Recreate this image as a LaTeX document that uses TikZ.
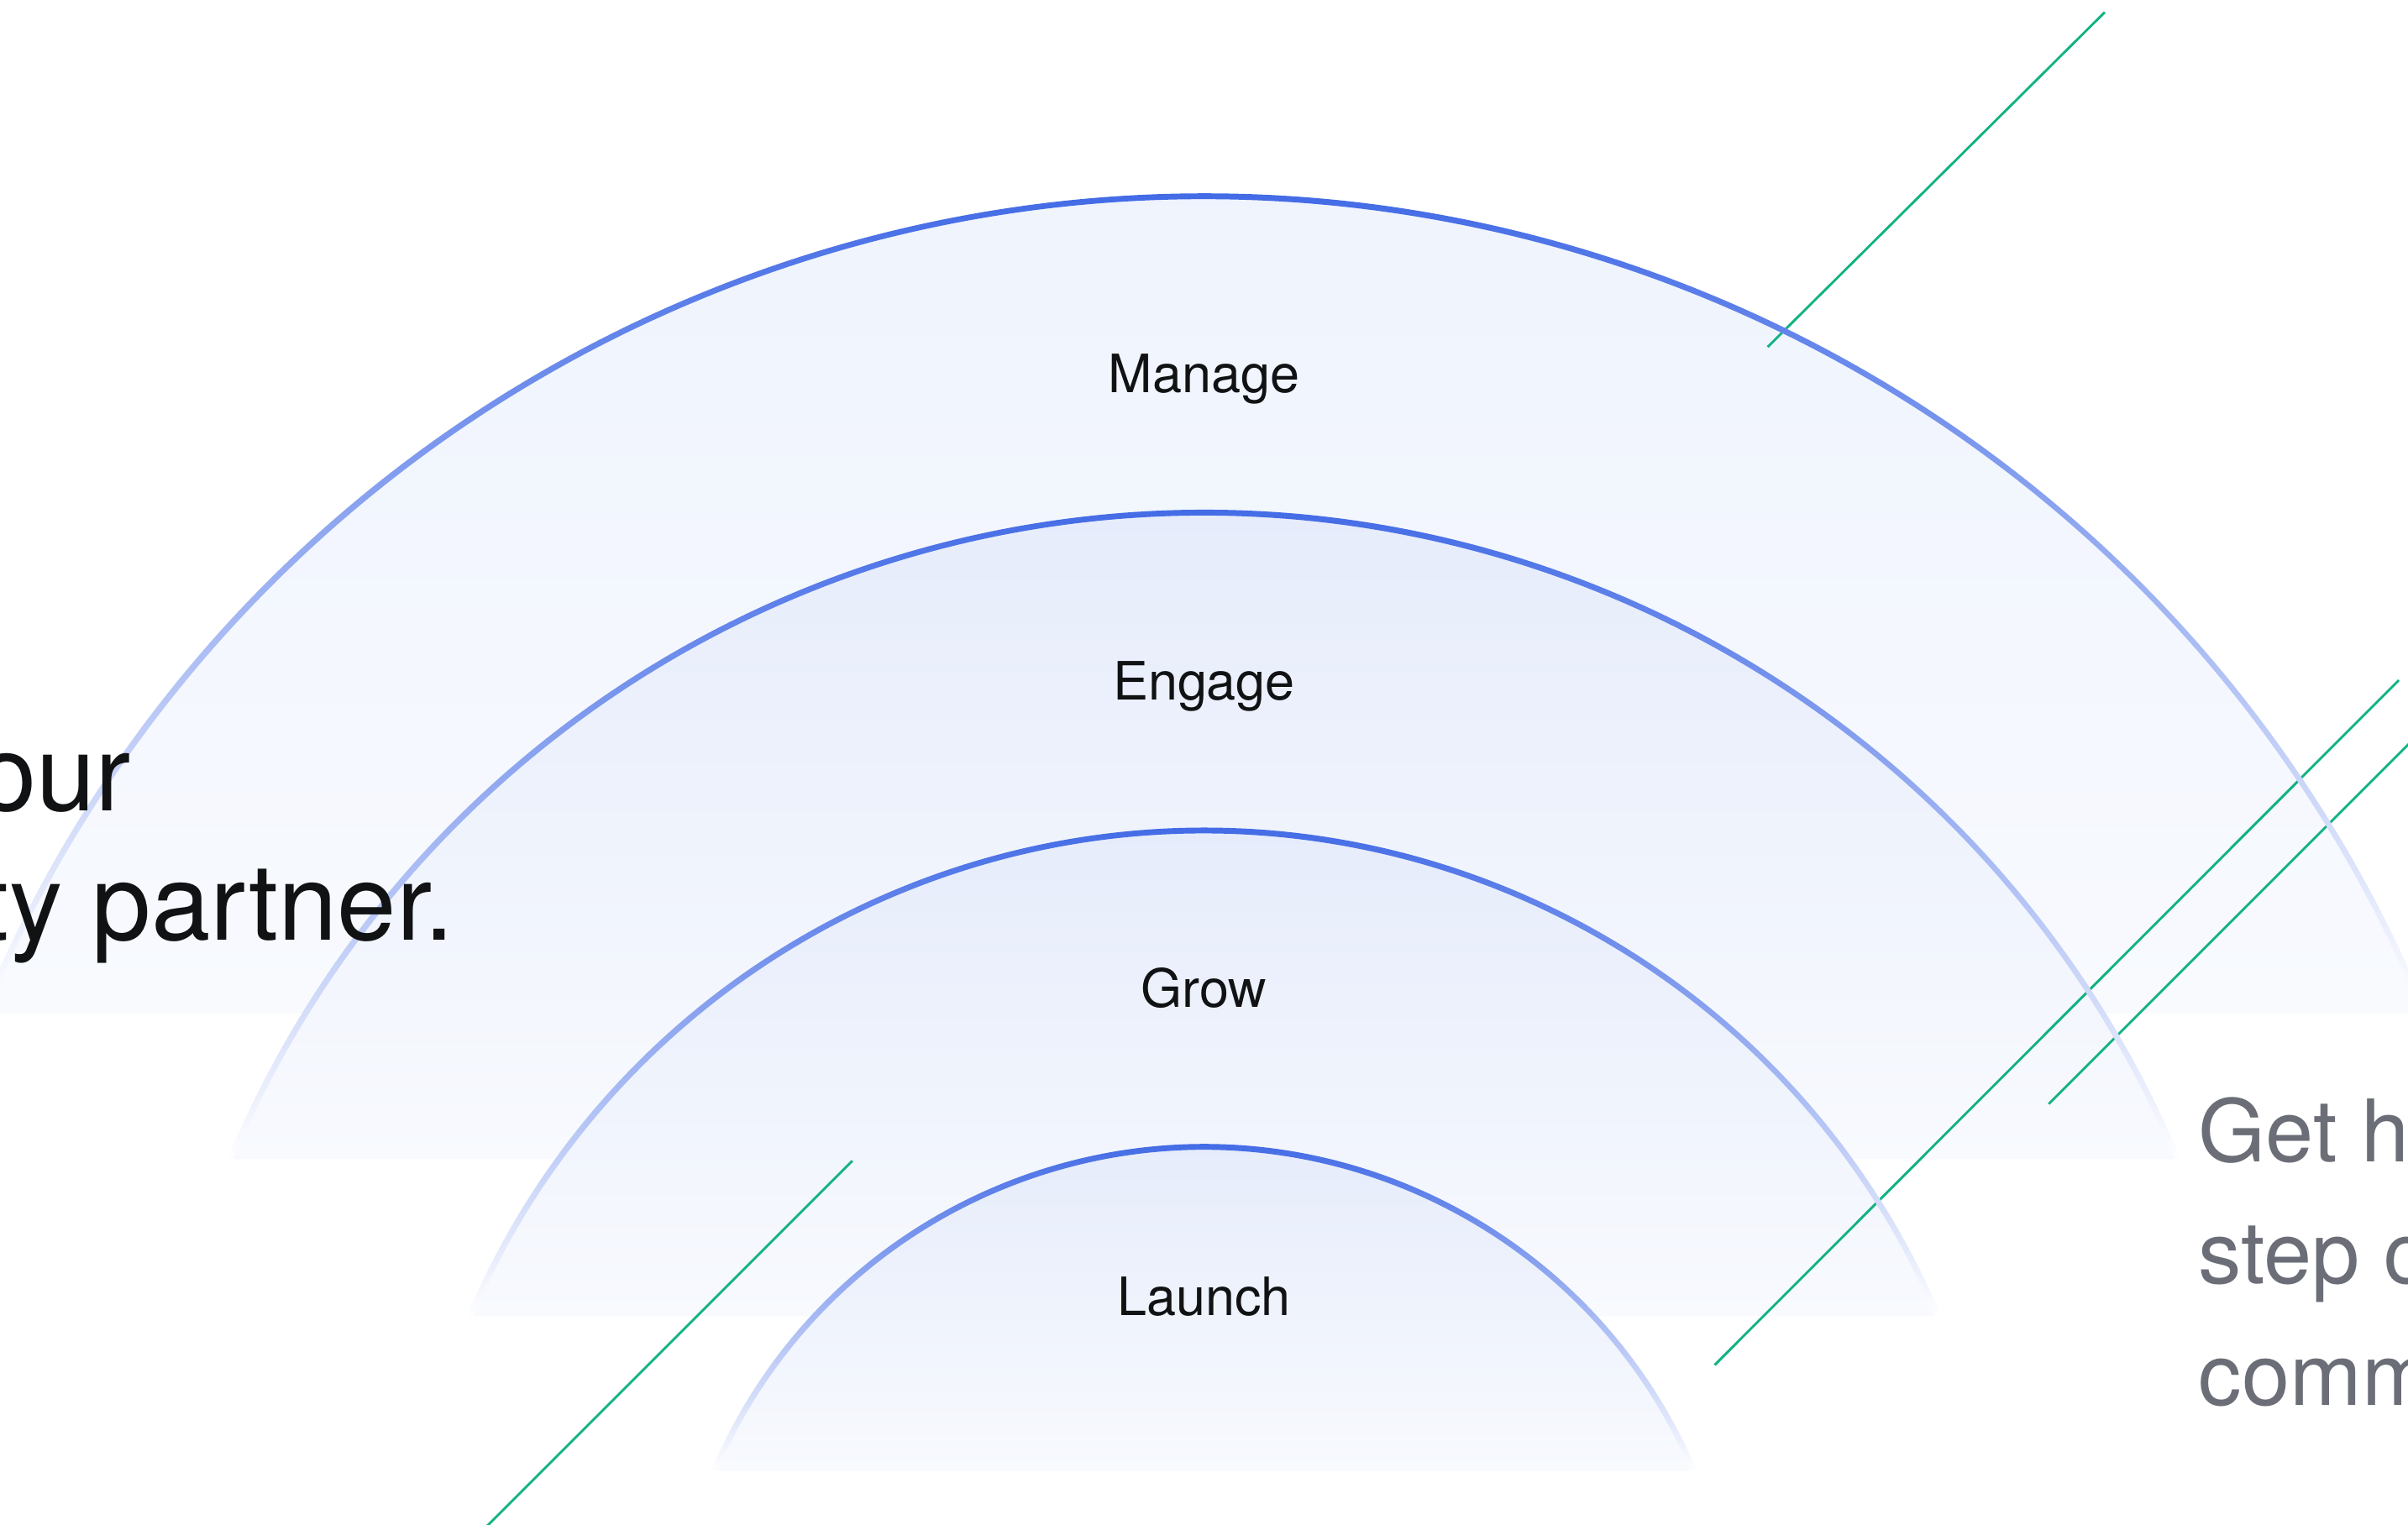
\documentclass[tikz,border=0pt]{standalone}
\usepackage{fontspec}
\setmainfont{TeX Gyre Heros}
\definecolor{arcblue}{HTML}{1A4BE0}
\definecolor{bandouter}{HTML}{EDF2FD}
\definecolor{bandinner}{HTML}{E2E9FA}
\definecolor{bandfoot}{HTML}{F8FAFE}
\definecolor{leafgreen}{HTML}{12B283}
\definecolor{inkblack}{HTML}{111214}
\definecolor{inkgray}{HTML}{6B6E77}
\begin{document}
\begin{tikzpicture}[
    steplabel/.style={anchor=base, inner sep=0pt, text=inkblack, font=\fontsize{9.8}{12}\selectfont},
    slash/.style={draw=leafgreen, line width=0.45pt},
    headline/.style={anchor=base east, inner sep=0pt, text=inkblack, font=\fontsize{19.7}{23}\selectfont},
    blurb/.style={anchor=base west, inner sep=0pt, text=inkgray, font=\fontsize{16}{19}\selectfont},
    rim/.style={top color=arcblue, middle color=arcblue!55!white, bottom color=white}]

  \useasboundingbox (0,0) rectangle (15.68,9.93);
  \clip (0,0) rectangle (15.68,9.93);

  % bands, outer one first
  \shade[top color=bandouter, bottom color=bandfoot, shift={(7.84,0.05)}]
    (157.58:8.6) arc[start angle=157.58, end angle=22.42, radius=8.6] -- cycle;
  \shade[top color=bandinner, bottom color=bandfoot, shift={(7.84,-0.29)}]
    (157.165:6.88) arc[start angle=157.165, end angle=22.835, radius=6.88] -- cycle;
  \shade[top color=bandinner, bottom color=bandfoot, shift={(7.84,-0.675)}]
    (156.94:5.195) arc[start angle=156.94, end angle=23.06, radius=5.195] -- cycle;
  \shade[top color=bandinner, bottom color=bandfoot, shift={(7.84,-1.006)}]
    (156.97:3.466) arc[start angle=156.97, end angle=23.03, radius=3.466] -- cycle;

  % green strokes
  \coordinate (gA1) at (11.51,7.67);
  \coordinate (gA2) at (13.705,9.85);
  \coordinate (gB1) at (11.165,1.04);
  \coordinate (gB2) at (15.62,5.50);
  \coordinate (gC1) at (13.34,2.74);
  \coordinate (gC2) at (15.80,5.20);
  \coordinate (gD1) at (5.55,2.37);
  \coordinate (gD2) at (3.10,-0.08);

  \draw[slash] (gA1) -- (gA2);
  \draw[slash] (gB1) -- (gB2);
  \draw[slash] (gC1) -- (gC2);
  \draw[slash] (gD1) -- (gD2);

  % rims fading out downwards
  \shade[rim, shift={(7.84,0.05)}]
    (157.58:8.619) arc[start angle=157.58, end angle=22.42, radius=8.619]
    -- (22.42:8.581) arc[start angle=22.42, end angle=157.58, radius=8.581] -- cycle;
  \shade[rim, shift={(7.84,-0.29)}]
    (157.165:6.899) arc[start angle=157.165, end angle=22.835, radius=6.899]
    -- (22.835:6.861) arc[start angle=22.835, end angle=157.165, radius=6.861] -- cycle;
  \shade[rim, shift={(7.84,-0.675)}]
    (156.94:5.214) arc[start angle=156.94, end angle=23.06, radius=5.214]
    -- (23.06:5.176) arc[start angle=23.06, end angle=156.94, radius=5.176] -- cycle;
  \shade[rim, shift={(7.84,-1.006)}]
    (156.97:3.485) arc[start angle=156.97, end angle=23.03, radius=3.485]
    -- (23.03:3.447) arc[start angle=23.03, end angle=156.97, radius=3.447] -- cycle;

  \node[steplabel] (manage) at (7.84,7.374) {Manage};
  \node[steplabel] (engage) at (7.84,5.37) {Engage};
  \node[steplabel] (grow) at (7.84,3.37) {Grow};
  \node[steplabel] (launch) at (7.84,1.365) {Launch};

  \node[headline] (heroA) at (0.86,4.652) {our};
  \node[headline] (heroB) at (2.965,3.81) {ty partner.};

  \node[blurb] (blurbA) at (14.31,2.365) {Get h};
  \node[blurb] (blurbB) at (14.31,1.572) {step c};
  \node[blurb] (blurbC) at (14.31,0.78) {comm};
\end{tikzpicture}
\end{document}
